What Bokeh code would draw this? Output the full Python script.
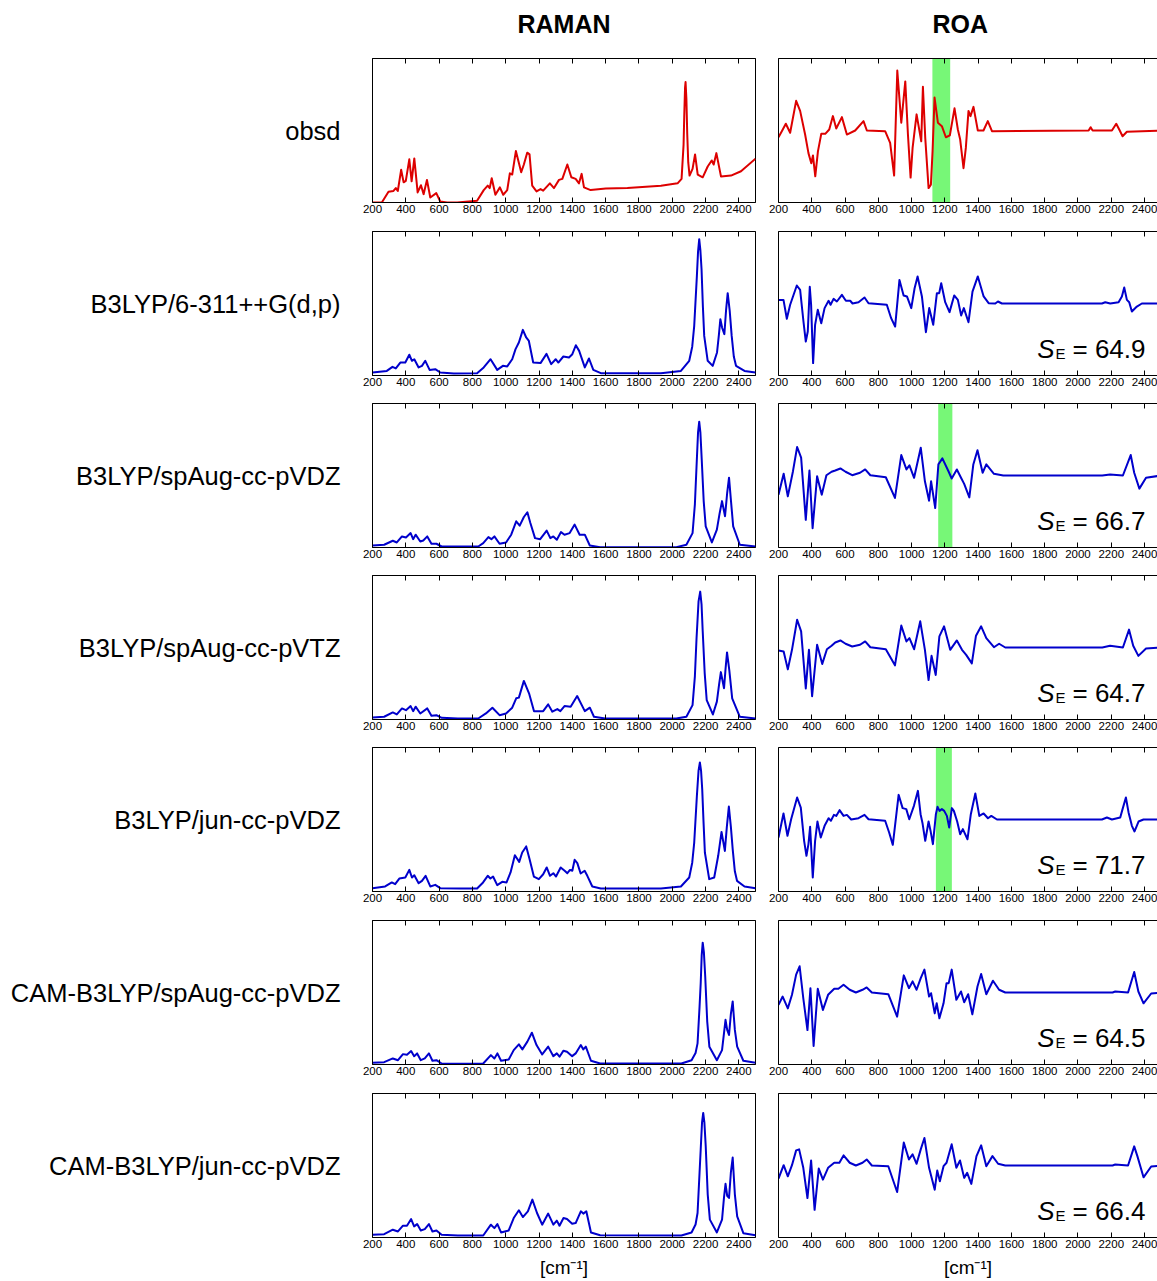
from bokeh.plotting import figure
from bokeh.layouts import column, row
from bokeh.models import LinearAxis, FixedTicker, Label, BoxAnnotation, Range1d
from bokeh.embed import file_html
from bokeh.resources import INLINE

# ---------------- data ----------------
methods = ["obsd", "B3LYP/6-311++G(d,p)", "B3LYP/spAug-cc-pVDZ", "B3LYP/spAug-cc-pVTZ",
           "B3LYP/jun-cc-pVDZ", "CAM-B3LYP/spAug-cc-pVDZ", "CAM-B3LYP/jun-cc-pVDZ"]
panel_titles = ["RAMAN", "ROA"]
unit_label = "[cm\u207b\u00b9]"
se_values = [None, "64.9", "66.7", "64.7", "71.7", "64.5", "66.4"]
tick_values = [200, 400, 600, 800, 1000, 1200, 1400, 1600, 1800, 2000, 2200, 2400]
band_rows = [0, 2, 4]
band_lo = [1125, 1160, 1146]
band_hi = [1232, 1245, 1242]

# (wavenumber, relative intensity in % of panel height)
raman_obsd = [(200,0),(256,0),(296,7.5),(326,8),(340,10),(352,8),(372,22.7),(387,14),(400,15),(421,30),
    (435,14.7),(451,30.6),(471,7),(491,12),(507,5.8),(527,15.7),(547,3.5),(583,6.5),(607,0.7),(648,0),
    (708,0),(828,1.2),(868,8.6),(892,11.7),(904,10),(916,16.8),(938,5.4),(965,10.5),(985,5.4),(1009,8.6),
    (1025,20.3),(1039,19.4),(1061,35.7),(1093,21),(1109,26.4),(1129,34.6),(1143,33.4),(1159,11.7),
    (1185,7.7),(1209,9.3),(1225,8.2),(1265,13.3),(1290,10),(1320,15.7),(1340,16.4),(1370,26.4),
    (1394,17.5),(1420,16.4),(1440,13.3),(1456,19.9),(1470,10.5),(1510,8.6),(1601,9.8),(1731,10),
    (1932,11.7),(2032,13.3),(2056,16.4),(2068,40),(2072,59.6),(2077,80),(2080,83.6),(2085,72),(2090,47.9),
    (2096,28),(2104,18.7),(2122,23.4),(2137,33.4),(2153,19.4),(2183,17.5),(2213,25),(2237,29.2),
    (2249,26.4),(2265,34.3),(2293,18),(2353,18.7),(2413,21.7),(2500,30.4)]
raman_b3_6311 = [(200,2.1),(286,3.2),(320,6),(340,4.9),(367,9),(397,9),(421,14.4),(437,10.2),(451,11.3),
    (477,5.6),(497,6.7),(517,10.2),(543,3.9),(577,4.4),(607,2.1),(688,1.4),(828,1.6),(868,5.6),(909,11.3),
    (949,3.9),(983,6.7),(1009,6.3),(1039,11.3),(1059,18.3),(1079,22.9),(1103,31.7),(1123,26.4),(1139,24),
    (1165,9),(1209,8.6),(1245,15),(1273,7.9),(1300,11.3),(1316,9),(1346,13.2),(1380,12.5),(1400,14.8),
    (1421,21),(1441,17.1),(1475,5.6),(1500,11.8),(1526,3.9),(1571,1.6),(1932,1.6),(2052,3.2),(2102,10.2),
    (2120,20),(2132,34.5),(2148,69.2),(2155,86),(2162,94.7),(2169,87),(2176,73.8),(2184,48),(2192,27.5),
    (2213,10.2),(2243,6.7),(2269,16),(2280,28),(2289,39.1),(2300,33),(2313,28.7),(2323,45),(2333,57.2),
    (2345,45),(2357,27.5),(2370,13),(2383,6.7),(2434,3.2),(2500,2.1)]
raman_b3_aug_dz = [(200,1.4),(270,1.9),(322,4.7),(346,3.5),(377,7.7),(401,7),(429,10),(444,5.8),(459,8.9),
    (487,4.2),(505,4.9),(529,7.7),(554,2.6),(584,2.6),(615,0.7),(713,0.7),(835,0.7),(865,3),(896,7.2),
    (914,5.8),(932,7.7),(963,2.6),(1002,3.5),(1033,8.9),(1063,18.2),(1084,15.2),(1109,21.2),(1130,24.5),
    (1148,17),(1176,6.5),(1207,5.8),(1246,11.7),(1268,6.5),(1286,7.7),(1307,5.4),(1332,10.7),(1353,8.9),
    (1384,10),(1414,15.9),(1444,8.9),(1475,8.9),(1505,1.4),(1567,0.2),(2024,0.2),(2085,1.9),(2122,10),
    (2136,30),(2146,56.6),(2155,80),(2162,87.4),(2169,80),(2177,61.3),(2189,32),(2201,14.7),(2238,3.5),
    (2268,12.4),(2285,24),(2299,32.2),(2317,21.7),(2330,38),(2341,48.5),(2353,32),(2366,14.7),(2406,1.9),
    (2500,0.7)]
raman_b3_aug_tz = [(200,1.4),(270,1.9),(322,4.9),(346,3.5),(377,7.7),(401,6.5),(429,9.3),(444,5.8),(459,8.9),
    (487,4.2),(529,7.7),(554,2.6),(584,3),(615,1.2),(713,0.7),(835,0.7),(881,4.2),(920,8.2),(963,3),
    (1002,4.2),(1039,8.2),(1063,14.7),(1079,15.2),(1109,26.8),(1140,18.2),(1170,5.8),(1225,5.8),(1255,10.5),
    (1280,5.4),(1310,7.2),(1328,5.8),(1353,9.3),(1390,8.9),(1429,16.3),(1475,5.8),(1505,8.2),(1530,1.9),
    (1597,0.7),(2024,0.7),(2085,1.9),(2122,10),(2136,30),(2146,56.6),(2158,82),(2168,88.8),(2176,80),
    (2183,61.3),(2195,32),(2207,13.5),(2244,3.5),(2268,12.4),(2281,24),(2292,32.9),(2311,21.7),(2320,35),
    (2329,46.6),(2343,34),(2360,14.7),(2406,1.9),(2500,0.7)]
raman_b3_jun_dz = [(200,2.3),(276,3.5),(316,6.3),(336,5.1),(361,9),(397,9.7),(421,15),(437,9.7),(451,11.3),
    (477,5.8),(497,7.4),(519,10.9),(547,3.5),(577,4.6),(607,2.3),(728,2.1),(828,2.1),(864,6.3),(892,10.9),
    (908,9),(924,10.4),(949,4.4),(979,6.7),(1005,6.3),(1029,13.2),(1055,25.2),(1081,20.6),(1099,27.1),
    (1123,31.3),(1143,22.5),(1169,10.4),(1199,8.6),(1225,12),(1246,16.7),(1266,10.9),(1286,12.7),
    (1302,10.4),(1330,16.7),(1354,14.4),(1370,12.7),(1386,15),(1400,14.4),(1414,22),(1430,19.7),
    (1450,12.5),(1474,14.4),(1490,10.9),(1520,3.5),(1571,2.1),(1932,2.1),(2052,3.5),(2102,9.7),(2120,20),
    (2132,34),(2148,66.4),(2158,84),(2166,89.6),(2173,84),(2180,71.1),(2188,48),(2196,27.1),(2222,8.6),
    (2252,9.7),(2276,24.8),(2296,41.4),(2316,28.2),(2328,45),(2340,59),(2352,45),(2363,29.4),(2376,14),
    (2389,7.4),(2434,3.5),(2500,2.3)]
raman_cam_aug_dz = [(200,1.2),(270,1.6),(322,4.2),(353,3),(383,7.2),(407,6.8),(432,9.3),(450,5.8),(468,7.7),
    (490,3),(514,4.2),(539,7.7),(560,2.6),(584,3),(615,0.7),(713,0.5),(865,0.7),(911,6.5),(932,4.2),
    (950,7.7),(972,2.6),(1018,3.5),(1048,10),(1079,14),(1100,10.5),(1130,15.9),(1157,22.1),(1185,13.5),
    (1219,7),(1255,12.4),(1286,5.8),(1307,7.7),(1323,5.4),(1347,9.6),(1368,8.9),(1399,5.8),(1420,7.7),
    (1451,13.5),(1466,10.5),(1481,12.4),(1512,2.6),(1567,0.7),(2055,0.7),(2116,3),(2140,8),(2152,14.7),
    (2164,40),(2171,56.6),(2177,76),(2183,84.6),(2190,78),(2198,61.3),(2210,30),(2223,12.4),(2268,3),
    (2299,10),(2311,22),(2320,31),(2330,24),(2341,20.5),(2352,35),(2363,43.8),(2376,24),(2390,12.4),
    (2427,2.6),(2500,1.2)]
raman_cam_jun_dz = [(200,1.9),(270,2.3),(322,5.4),(353,4.2),(383,8.2),(407,8.2),(432,12.8),(450,7.7),(468,9.3),
    (490,4.9),(514,5.8),(539,9.3),(560,4.2),(584,4.9),(615,1.9),(713,1.4),(865,1.4),(911,8.9),(932,6.5),
    (950,9.3),(972,3.5),(1018,4.9),(1048,13.5),(1079,18.9),(1103,14.2),(1133,18.2),(1160,26.3),(1188,17),
    (1219,8.9),(1255,16.6),(1286,8.9),(1307,11.7),(1323,8.2),(1347,13.5),(1368,12.8),(1399,9.6),(1420,10),
    (1451,18.2),(1466,16.6),(1484,18.2),(1512,3.5),(1567,1.6),(2055,1.4),(2116,3.5),(2140,9),(2152,17),
    (2164,45),(2171,61.3),(2179,80),(2186,86.5),(2193,80),(2201,63.6),(2213,30),(2226,12.4),(2268,3.5),
    (2299,12.4),(2311,28),(2320,37.3),(2330,29),(2341,27.5),(2352,45),(2363,55.5),(2376,30),(2390,14.7),
    (2427,3),(2500,1.6)]

# (wavenumber, ROA in % of panel height relative to the zero line)
roa_obsd = [(200,-4.7),(220,-0.5),(244,4.7),(270,-1.6),(306,20.6),(330,13.6),(360,-2.8),(380,-15.7),
    (397,-22.7),(407,-17.3),(421,-31.8),(437,-14.5),(457,-2.3),(481,-2.3),(505,0.7),(527,10),(547,1.4),
    (581,9.3),(611,-2.8),(661,0),(711,6.5),(731,0),(841,-0.5),(871,-8.6),(895,-31.3),(914,41.6),(938,5.4),
    (962,34.1),(978,-2.8),(994,-32.7),(1006,-12.1),(1030,11.2),(1058,-7.5),(1068,30.4),(1082,-5.1),
    (1102,-40),(1116,-37.6),(1126,-14.5),(1138,22.9),(1158,5.4),(1182,3),(1206,-4.7),(1230,-3.3),
    (1258,15.4),(1278,0.7),(1292,-6.3),(1312,-26.2),(1326,-12.1),(1342,13.6),(1354,10),(1372,16.4),
    (1398,0),(1432,0),(1458,6.5),(1483,-0.5),(2064,0),(2076,2.3),(2088,0),(2204,0),(2230,4.7),(2248,0.7),
    (2268,-4),(2294,-0.9),(2500,0)]
roa_b3_6311 = [(200,2.5),(230,2.5),(250,-10.6),(270,-0.9),(310,12.5),(330,9.5),(350,-12.5),(364,-26.4),
    (376,-19.4),(388,11.6),(396,-0.9),(408,-41.4),(420,-14.8),(436,-4.4),(457,-13.7),(477,-3.2),(501,1.9),
    (513,-0.9),(531,3.2),(551,1.4),(581,6),(605,1.9),(631,1.9),(645,0),(681,0.9),(717,4.2),(741,0.2),
    (851,-0.9),(877,-10.2),(901,-16),(927,16.4),(952,5.6),(972,4.9),(998,-3.2),(1018,10.6),(1036,18.8),
    (1062,4.9),(1086,-19.9),(1106,-3.2),(1130,-14.8),(1152,7.2),(1166,7.2),(1178,14.1),(1202,0.9),
    (1228,-6),(1256,5.6),(1278,2.5),(1298,-8.3),(1314,-3.2),(1342,-13),(1366,8.3),(1398,18.8),(1433,4.9),
    (1463,0.2),(1503,0),(1519,1.4),(1543,0),(2144,0),(2164,0.9),(2194,0),(2244,0.9),(2264,4.9),
    (2278,11.1),(2294,2.5),(2308,0.9),(2324,-5.6),(2354,-2.1),(2384,0),(2500,0)]
roa_b3_aug_dz = [(200,-13.3),(231,1.2),(256,-14.5),(287,3),(312,19.8),(336,12.4),(364,-30.8),(386,3.5),
    (405,-36.6),(432,-0.5),(460,-13.3),(488,0.2),(519,2.6),(541,3.5),(572,4.9),(603,2.6),(643,0.2),
    (690,1.9),(721,4.2),(752,0.2),(845,-1.2),(900,-15.6),(938,14.2),(969,4.2),(987,7),(1015,-1.6),
    (1055,19.3),(1080,-4),(1105,-17.5),(1117,-4),(1142,-22.6),(1161,7.7),(1185,11.9),(1223,2.6),
    (1241,-2.1),(1272,4.2),(1297,-1.6),(1316,-5.8),(1347,-15.2),(1371,7.7),(1396,17.5),(1427,1.9),
    (1449,7.7),(1495,1.2),(1551,0),(2146,0),(2193,0.7),(2270,0),(2317,14.2),(2338,1.9),(2369,-9.1),
    (2409,-1.6),(2500,0)]
roa_b3_aug_tz = [(200,-2.1),(231,-2.8),(256,-15.2),(281,-1.6),(312,19.3),(336,11.2),(364,-28.4),(383,-1.6),
    (402,-33.8),(432,1.9),(463,-11.4),(491,-1.2),(519,1.2),(541,3.5),(572,4.9),(603,2.6),(643,0.7),
    (690,1.9),(721,4.2),(752,0.2),(845,-1.2),(900,-12.4),(938,15.2),(969,4.2),(987,6.5),(1015,-1.2),
    (1052,18.2),(1080,-1.6),(1102,-22.6),(1120,-5.8),(1145,-19.1),(1167,7.7),(1195,14.7),(1232,-1.6),
    (1272,4.9),(1303,-1.6),(1328,-5.1),(1362,-11),(1387,8.2),(1418,14.7),(1449,6.5),(1495,0.2),
    (1526,2.6),(1563,0),(2146,0),(2193,1.2),(2270,0),(2307,12.4),(2332,1.2),(2363,-5.8),(2409,-0.7),
    (2500,0)]
roa_b3_jun_dz = [(200,-12.5),(230,4.2),(254,-11.3),(276,0.2),(312,15.3),(334,8.3),(354,-14.8),(368,-25.2),
    (380,-17.1),(390,-5.1),(406,-40.3),(420,-14.8),(434,-1.4),(454,-12.5),(477,-4.4),(501,0.9),(515,-0.9),
    (533,3.2),(547,2.5),(567,6.5),(591,2.5),(611,3.2),(637,0),(681,0.9),(717,3.2),(741,0.2),(841,-0.9),
    (865,-9),(887,-17.6),(922,17.1),(946,7.9),(968,7.2),(986,0.2),(1014,9.5),(1038,19.9),(1054,3.7),
    (1066,-2.8),(1082,-14.8),(1102,-1.4),(1114,-7.9),(1128,-17.1),(1146,3.7),(1156,8.8),(1168,6),
    (1182,7.2),(1196,6),(1212,2.5),(1226,-5.6),(1242,7.9),(1254,6),(1274,-1.4),(1292,-10.2),(1308,-6.7),
    (1336,-13.7),(1356,3.7),(1383,18.1),(1407,2.5),(1433,4.2),(1459,0.9),(1479,2.5),(1513,0),(2144,0),
    (2174,1.4),(2204,0),(2254,1.4),(2268,7.2),(2288,15.3),(2304,4.9),(2324,-4.4),(2340,-8.3),(2364,-1.4),
    (2394,0),(2500,0)]
roa_cam_aug_dz = [(200,-8.6),(225,-2.8),(256,-11),(281,-1.6),(306,12.4),(327,18.2),(349,-4),(374,-26.1),
    (392,3),(411,-37.1),(436,2.6),(467,-12.1),(498,-1.6),(535,2.6),(560,2.6),(591,5.4),(628,1.9),(665,0),
    (705,1.9),(730,3.5),(761,0),(860,-1.2),(913,-16.8),(953,11.9),(984,3),(1006,7.7),(1030,1.9),(1055,10),
    (1077,15.9),(1105,-2.8),(1117,-0.5),(1139,-14.5),(1151,-7.5),(1167,-17.9),(1192,-7.5),(1210,6.5),
    (1223,6.5),(1241,15.9),(1269,-5.1),(1297,0.7),(1316,-6.8),(1340,-1.2),(1365,-15.2),(1396,4.2),
    (1418,12.8),(1449,-1.2),(1489,8.2),(1526,1.9),(1563,0),(2208,0),(2224,0.7),(2301,0),(2338,14.2),
    (2363,0.7),(2394,-7.5),(2440,-0.7),(2500,0)]
roa_cam_jun_dz = [(200,-9.1),(231,0.2),(256,-7.5),(281,0.2),(306,10.5),(324,11.2),(349,-1.6),(374,-22.6),
    (396,3.5),(417,-30.8),(442,-2.1),(467,-9.8),(498,-1.6),(535,1.9),(566,1.9),(591,7),(628,1.9),(665,0),
    (705,1.9),(730,4.2),(761,0),(860,-0.5),(913,-18.4),(953,15.9),(984,4.2),(1006,7.7),(1030,1.2),
    (1055,11.2),(1077,19.1),(1105,-1.6),(1139,-16.8),(1154,-3.5),(1170,-11),(1192,-0.5),(1210,1.9),
    (1241,14.7),(1269,-1.6),(1291,3.5),(1316,-8.6),(1334,-5.1),(1359,-12.8),(1390,6.5),(1418,14),
    (1449,-0.5),(1486,6.5),(1520,1.2),(1563,0),(2208,0),(2224,0.7),(2301,0),(2338,13.3),(2357,6.5),
    (2394,-8.2),(2440,-0.7),(2500,0)]

raman_sets = [raman_obsd, raman_b3_6311, raman_b3_aug_dz, raman_b3_aug_tz, raman_b3_jun_dz,
              raman_cam_aug_dz, raman_cam_jun_dz]
roa_sets = [roa_obsd, roa_b3_6311, roa_b3_aug_dz, roa_b3_aug_tz, roa_b3_jun_dz,
            roa_cam_aug_dz, roa_cam_jun_dz]

# ---------------- layout / style ----------------
FONT = "Liberation Sans"
RED = "#dd0000"
BLUE = "#0000cc"
GREEN = "#77f777"
FH = 144
HEAD_SHIFT = 14                      # first row drawn taller, then pulled up by this much
TOP_B = [58 + HEAD_SHIFT, 5, 5, 5, 5, 5, 5]
BOT_B = [24, 23, 23, 23, 24, 24, 44]
L_BORDER, L_FW, L_RB = 372, 383, 12
R_LB, R_FW = 11, 379


def style_xaxis(ax, labels):
    ax.ticker = FixedTicker(ticks=tick_values)
    ax.major_tick_in = 5
    ax.major_tick_out = 0
    ax.minor_tick_line_color = None
    ax.major_tick_line_color = "black"
    ax.axis_line_color = "black"
    ax.axis_line_width = 1
    if labels:
        ax.major_label_text_font = FONT
        ax.major_label_text_font_size = "11.5px"
        ax.major_label_text_color = "black"
        ax.major_label_standoff = 2
    else:
        ax.major_label_text_font_size = "1px"
        ax.major_label_text_color = None
        ax.major_label_standoff = 0


def style_blank_yaxis(ax, line_color):
    ax.ticker = FixedTicker(ticks=[])
    ax.major_tick_line_color = None
    ax.minor_tick_line_color = None
    ax.major_tick_in = 0
    ax.major_tick_out = 0
    ax.major_label_standoff = 0
    ax.axis_line_color = line_color


def style_unit_label(ax, text):
    ax.axis_label = text
    ax.axis_label_text_font = FONT
    ax.axis_label_text_font_size = "19px"
    ax.axis_label_text_font_style = "normal"
    ax.axis_label_text_color = "black"
    ax.axis_label_standoff = 6


rows = []
for i in range(7):
    color = RED if i == 0 else BLUE
    h = TOP_B[i] + FH + BOT_B[i]
    extra = dict(margin=(-HEAD_SHIFT, 0, 0, 0)) if i == 0 else {}

    # ---- Raman panel ----
    xs, ys = zip(*raman_sets[i])
    pl = figure(width=L_BORDER + L_FW + L_RB, height=h, x_range=Range1d(200, 2500),
                y_range=Range1d(0, 100), toolbar_location=None,
                output_backend="svg", min_border_left=L_BORDER, min_border_right=L_RB,
                min_border_top=TOP_B[i], min_border_bottom=BOT_B[i], **extra)
    pl.line(list(xs), list(ys), line_color=color, line_width=2, line_join="round")
    pl.grid.visible = False
    pl.outline_line_color = "black"
    pl.outline_line_width = 1
    bot_l = pl.xaxis[0]
    style_xaxis(bot_l, True)
    top_ax = LinearAxis()
    style_xaxis(top_ax, False)
    pl.add_layout(top_ax, "above")
    yl = pl.yaxis[0]
    style_blank_yaxis(yl, None)
    yl.axis_label = methods[i]
    yl.axis_label_orientation = "horizontal"
    yl.axis_label_text_font = FONT
    yl.axis_label_text_font_size = "25.5px"
    yl.axis_label_text_font_style = "normal"
    yl.axis_label_text_color = "black"
    yl.axis_label_standoff = 32

    # ---- ROA panel ----
    rx, ry = zip(*roa_sets[i])
    pr = figure(width=R_LB + R_FW, height=h, x_range=Range1d(200, 2478),
                y_range=Range1d(-50, 50), toolbar_location=None, output_backend="svg",
                min_border_left=R_LB, min_border_right=0,
                min_border_top=TOP_B[i], min_border_bottom=BOT_B[i], **extra)
    if i in band_rows:
        k = band_rows.index(i)
        pr.add_layout(BoxAnnotation(left=band_lo[k], right=band_hi[k], fill_color=GREEN,
                                    fill_alpha=1.0, line_color=None, level="underlay"))
    pr.line(list(rx), list(ry), line_color=color, line_width=2, line_join="round")
    pr.grid.visible = False
    pr.outline_line_color = None
    bot_r = pr.xaxis[0]
    style_xaxis(bot_r, True)
    top_ax2 = LinearAxis()
    style_xaxis(top_ax2, False)
    pr.add_layout(top_ax2, "above")
    style_blank_yaxis(pr.yaxis[0], "black")

    if se_values[i] is not None:
        pr.add_layout(Label(x=276, y=27, x_units="screen", y_units="screen", text="S",
                            text_font=FONT, text_font_size="26px", text_font_style="italic",
                            text_align="right", text_baseline="alphabetic", text_color="black"))
        pr.add_layout(Label(x=277, y=22, x_units="screen", y_units="screen", text="E",
                            text_font=FONT, text_font_size="15px", text_align="left",
                            text_baseline="alphabetic", text_color="black"))
        pr.add_layout(Label(x=367, y=27, x_units="screen", y_units="screen",
                            text="= " + se_values[i], text_font=FONT, text_font_size="26px",
                            text_align="right", text_baseline="alphabetic", text_color="black"))

    if i == 0:
        for p, t in ((pl, panel_titles[0]), (pr, panel_titles[1])):
            p.title.text = t
            p.title.text_font = FONT
            p.title.text_font_size = "25px"
            p.title.text_font_style = "bold"
            p.title.text_color = "black"
            p.title.standoff = 41
        pl.title.align = "center"
        pr.title.align = "left"
        pr.title.offset = 154
    if i == 6:
        style_unit_label(bot_l, unit_label)
        style_unit_label(bot_r, unit_label)

    rows.append(row(pl, pr))

layout = column(*rows)
open("out.html", "w").write(file_html(layout, INLINE))
